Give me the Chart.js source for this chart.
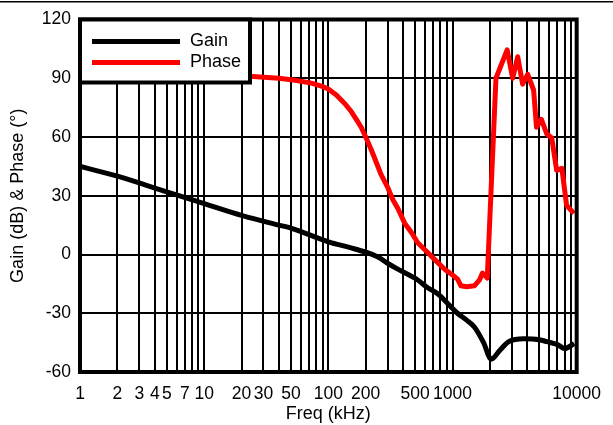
<!DOCTYPE html>
<html>
<head>
<meta charset="utf-8">
<script src="https://cdn.jsdelivr.net/npm/chart.js@4.4.1/dist/chart.umd.min.js"></script>
<style>
  body { margin: 0; background: #fff; }
  canvas { display: block; }
</style>
</head>
<body>
<canvas id="bode" width="613" height="425"></canvas>
<script>
// frequency in kHz
const gainFreq = [1, 2, 5, 10, 20, 40, 50, 100, 150, 200, 251, 302, 363, 525, 631, 759, 964, 1096, 1300, 1500, 1780, 2050, 2400, 2840, 3760, 5000, 5750, 7000, 8000, 9550];
const gainDb = [45, 40, 32, 26, 20, 15, 13.5, 6.5, 3.5, 1.2, -1.3, -4.6, -7.5, -13, -17, -20, -26.5, -30, -33.5, -37, -45, -53.5, -49, -44.5, -43, -43.5, -44.5, -46, -48, -45.5];

const phaseFreq = [1, 10, 23, 40, 54, 73, 88, 100, 116, 136, 153, 170, 184, 200, 220, 240, 265, 302, 331, 363, 412, 464, 525, 631, 730, 865, 1000, 1096, 1170, 1300, 1500, 1650, 1740, 1905, 2239, 2754, 3054, 3350, 3670, 4030, 4500, 4750, 5200, 5750, 6300, 6900, 7600, 8300, 9500];
const phaseDeg = [91.5, 91.5, 91, 90, 89, 87.5, 86, 84.5, 81.5, 77, 73, 68.5, 65, 60, 54, 48, 41, 34, 28, 23.5, 16, 11.5, 6, 1, -3, -7.5, -10.5, -12.5, -16, -16.5, -16, -13, -9.5, -12, 90, 104.5, 90, 101, 87, 92, 84, 65, 69, 61.5, 59.5, 43, 44, 25, 21];

const xLabels = [1, 2, 3, 4, 5, 7, 10, 20, 30, 50, 100, 200, 500, 1000, 10000];
const yMin = -60, yMax = 120, yStep = 30;

const FONT = "'Liberation Sans', Arial, sans-serif";

function toPoints(xs, ys) {
  return xs.map((x, i) => ({ x, y: ys[i] }));
}

// outer frame, thin rule along the top and the boxed legend
const frame = {
  id: 'frame',
  beforeDraw(chart) {
    const ctx = chart.ctx;
    ctx.save();
    ctx.fillStyle = '#000';
    ctx.fillRect(0, 1, chart.width, 1.5);
    ctx.restore();
  },
  afterDatasetsDraw(chart) {
    const { ctx, chartArea: a } = chart;
    ctx.save();
    ctx.strokeStyle = '#000';
    ctx.lineWidth = 4;
    ctx.strokeRect(a.left, a.top, a.right - a.left, a.bottom - a.top);

    const box = { x: a.left, y: a.top, w: 170, h: 63 };
    ctx.fillStyle = '#fff';
    ctx.fillRect(box.x, box.y, box.w, box.h);
    ctx.strokeRect(box.x, box.y, box.w, box.h);

    ctx.font = '18px ' + FONT;
    ctx.textBaseline = 'middle';
    chart.data.datasets.forEach((ds, i) => {
      const y = box.y + 22 + i * 21;
      ctx.strokeStyle = ds.borderColor;
      ctx.lineWidth = 5;
      ctx.beginPath();
      ctx.moveTo(box.x + 12, y);
      ctx.lineTo(box.x + 100, y);
      ctx.stroke();
      ctx.fillStyle = '#000';
      ctx.fillText(ds.label, box.x + 110, y);
    });
    ctx.restore();
  }
};

new Chart(document.getElementById('bode'), {
  type: 'line',
  data: {
    datasets: [
      { label: 'Gain', data: toPoints(gainFreq, gainDb), borderColor: '#000', borderWidth: 5, pointRadius: 0, fill: false, cubicInterpolationMode: 'monotone' },
      { label: 'Phase', data: toPoints(phaseFreq, phaseDeg), borderColor: '#ff0000', borderWidth: 5, pointRadius: 0, fill: false, borderJoinStyle: 'round' }
    ]
  },
  options: {
    responsive: false,
    animation: false,
    layout: { padding: { left: 0, top: 17, right: 33, bottom: 0 } },
    plugins: { legend: { display: false }, tooltip: { enabled: false } },
    scales: {
      x: {
        type: 'logarithmic',
        min: 1,
        max: 10000,
        afterBuildTicks: scale => {
          const ticks = [];
          for (let d = 1; d < 10000; d *= 10) {
            for (let m = 1; m < 10; m++) ticks.push({ value: m * d });
          }
          ticks.push({ value: 10000 });
          scale.ticks = ticks;
        },
        afterFit: scale => { scale.height = 53; },
        ticks: {
          autoSkip: false,
          maxRotation: 0,
          padding: 12,
          color: '#000',
          font: { family: FONT, size: 17.5 },
          callback: v => (xLabels.includes(v) ? String(v) : '')
        },
        grid: { color: '#000', lineWidth: 2, drawTicks: false },
        border: { display: false },
        title: { display: true, text: 'Freq (kHz)', color: '#000', font: { family: FONT, size: 18 }, padding: { top: 0, bottom: 0 } }
      },
      y: {
        min: yMin,
        max: yMax,
        afterFit: scale => { scale.width = 80; },
        ticks: { stepSize: yStep, padding: 9, color: '#000', font: { family: FONT, size: 17.5 } },
        grid: { color: '#000', lineWidth: 2, drawTicks: false },
        border: { display: false },
        title: { display: true, text: 'Gain (dB) & Phase (°)', color: '#000', font: { family: FONT, size: 18 }, padding: { top: 7, bottom: 0 } }
      }
    }
  },
  plugins: [frame]
});
</script>
</body>
</html>
